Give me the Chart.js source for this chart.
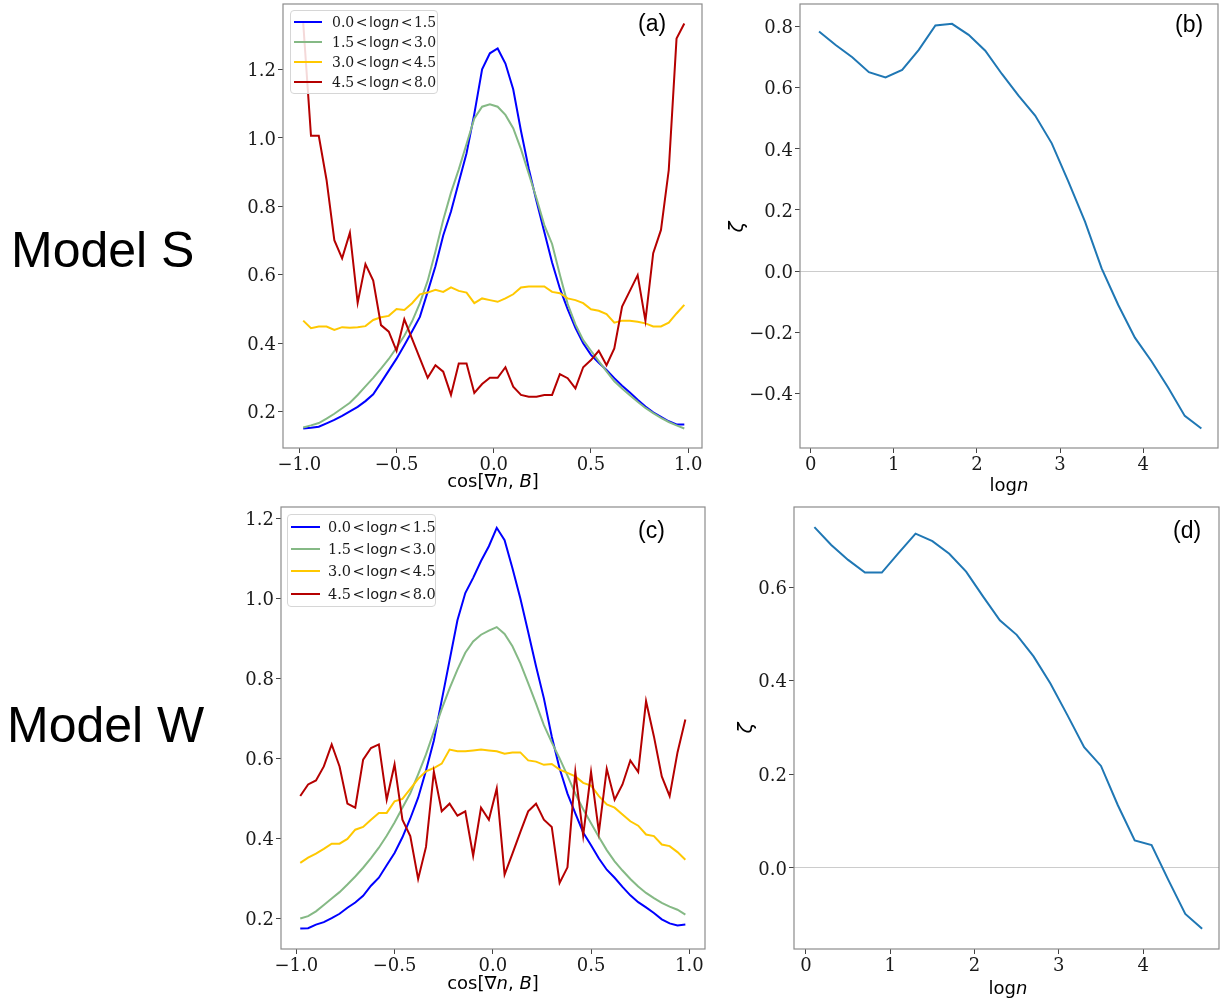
<!DOCTYPE html>
<html>
<head>
<meta charset="utf-8">
<script src="https://cdn.jsdelivr.net/npm/chart.js@4.4.1/dist/chart.umd.min.js"></script>
<style>
body { margin: 0; background: #fff; }
#page { position: relative; width: 1232px; height: 1002px; overflow: hidden; background: #fff; }
canvas { position: absolute; }
.txt { position: absolute; white-space: nowrap; color: #000; }
.model { font-family: 'Liberation Sans', Arial, sans-serif; font-size: 50px; line-height: 50px; }
.tag { font-family: 'Liberation Sans', Arial, sans-serif; font-size: 23px; line-height: 26px; }
.axt { font-family: 'DejaVu Sans', sans-serif; font-size: 18px; line-height: 22px; text-align: center; width: 200px; }
.zeta { font-family: 'DejaVu Sans', sans-serif; font-size: 20px; font-style: italic; width: 20px; height: 20px;
        line-height: 20px; text-align: center; transform: rotate(-90deg); }
.legend { position: absolute; border: 1px solid #d6d6d6; border-radius: 4px; background: rgba(255,255,255,0.85); box-sizing: border-box; }
.legend .swatch { position: absolute; height: 2px; }
.legend .lab { position: absolute; font-family: 'DejaVu Sans', sans-serif; white-space: nowrap; color: #1a1a1a; }
.legend .num { font-family: 'DejaVu Serif', serif; }
.legend .op { margin: 0 1.5px; }
</style>
</head>
<body>
<div id="page">
  <div class="txt model" style="left:11px; top:225px;">Model S</div>
  <div class="txt model" style="left:7px; top:700px;">Model W</div>

  <canvas id="chartA" width="500" height="500" style="left:220px; top:0px;"></canvas>
  <canvas id="chartB" width="512" height="500" style="left:720px; top:0px;"></canvas>
  <canvas id="chartC" width="500" height="502" style="left:220px; top:500px;"></canvas>
  <canvas id="chartD" width="512" height="502" style="left:720px; top:500px;"></canvas>

  <div class="txt tag" style="left:638px; top:10px;">(a)</div>
  <div class="txt tag" style="left:1175px; top:11px;">(b)</div>
  <div class="txt tag" style="left:638px; top:517px;">(c)</div>
  <div class="txt tag" style="left:1173px; top:517px;">(d)</div>

  <div class="txt axt" style="left:393px; top:470px;">cos[∇<i>n</i>, <i>B</i>]</div>
  <div class="txt axt" style="left:393px; top:972px;">cos[∇<i>n</i>, <i>B</i>]</div>
  <div class="txt axt" style="left:909px; top:474px;">log<i>n</i></div>
  <div class="txt axt" style="left:908px; top:977px;">log<i>n</i></div>
  <div class="txt zeta" style="left:726px; top:217px;">ζ</div>
  <div class="txt zeta" style="left:735px; top:718px;">ζ</div>

  <div id="legendA" class="legend" style="left:290px; top:10px; width:148px; height:84px;"></div>
  <div id="legendC" class="legend" style="left:287px; top:514px; width:149px; height:93px;"></div>
</div>

<script>
// bin centres of cos[grad n, B]
const cosBins = [-0.98, -0.94, -0.90, -0.86, -0.82, -0.78, -0.74, -0.70, -0.66, -0.62,
                 -0.58, -0.54, -0.50, -0.46, -0.42, -0.38, -0.34, -0.30, -0.26, -0.22,
                 -0.18, -0.14, -0.10, -0.06, -0.02, 0.02, 0.06, 0.10, 0.14, 0.18,
                 0.22, 0.26, 0.30, 0.34, 0.38, 0.42, 0.46, 0.50, 0.54, 0.58,
                 0.62, 0.66, 0.70, 0.74, 0.78, 0.82, 0.86, 0.90, 0.94, 0.98];

// density bins of log n
const logN = [0.1, 0.3, 0.5, 0.7, 0.9, 1.1, 1.3, 1.5, 1.7, 1.9, 2.1, 2.3,
              2.5, 2.7, 2.9, 3.1, 3.3, 3.5, 3.7, 3.9, 4.1, 4.3, 4.5, 4.7];

const binEdges = ['0.0', '1.5', '3.0', '4.5', '8.0'];
const binColors = ['#0000ff', '#85b985', '#ffc800', '#b50000'];

// Model S, panel (a)
const sBlue = [0.151, 0.153, 0.156, 0.166, 0.176, 0.188, 0.201, 0.214, 0.231, 0.251,
               0.285, 0.320, 0.355, 0.394, 0.435, 0.477, 0.550, 0.625, 0.715, 0.785,
               0.870, 0.955, 1.070, 1.200, 1.247, 1.261, 1.217, 1.142, 1.020, 0.910,
               0.815, 0.725, 0.636, 0.560, 0.500, 0.445, 0.400, 0.366, 0.343, 0.322,
               0.298, 0.276, 0.256, 0.235, 0.215, 0.198, 0.185, 0.172, 0.163, 0.163];
const sGreen = [0.154, 0.160, 0.167, 0.180, 0.194, 0.210, 0.226, 0.249, 0.274, 0.299,
                0.326, 0.354, 0.387, 0.422, 0.464, 0.517, 0.582, 0.668, 0.760, 0.840,
                0.908, 0.982, 1.057, 1.091, 1.098, 1.091, 1.067, 1.028, 0.967, 0.895,
                0.823, 0.745, 0.690, 0.600, 0.515, 0.455, 0.409, 0.378, 0.348, 0.318,
                0.289, 0.268, 0.248, 0.229, 0.211, 0.196, 0.182, 0.170, 0.160, 0.151];
const sYellow = [0.466, 0.444, 0.449, 0.449, 0.439, 0.447, 0.445, 0.447, 0.450, 0.468,
                 0.476, 0.480, 0.500, 0.497, 0.517, 0.543, 0.548, 0.556, 0.550, 0.563,
                 0.553, 0.548, 0.517, 0.531, 0.526, 0.521, 0.531, 0.543, 0.563, 0.566,
                 0.566, 0.566, 0.550, 0.546, 0.531, 0.526, 0.517, 0.499, 0.495, 0.485,
                 0.460, 0.466, 0.466, 0.463, 0.458, 0.449, 0.449, 0.460, 0.487, 0.512];
const sRed = [1.335, 1.006, 1.006, 0.877, 0.701, 0.648, 0.723, 0.518, 0.631, 0.583,
              0.453, 0.434, 0.378, 0.470, 0.413, 0.356, 0.299, 0.336, 0.317, 0.249,
              0.341, 0.341, 0.255, 0.281, 0.299, 0.299, 0.330, 0.273, 0.249, 0.244,
              0.244, 0.249, 0.249, 0.310, 0.298, 0.268, 0.330, 0.351, 0.378, 0.336,
              0.385, 0.507, 0.553, 0.599, 0.466, 0.663, 0.731, 0.906, 1.290, 1.334];

// Model W, panel (c)
const wBlue = [0.175, 0.176, 0.185, 0.191, 0.201, 0.212, 0.227, 0.240, 0.257, 0.282,
               0.302, 0.333, 0.364, 0.403, 0.450, 0.502, 0.570, 0.645, 0.745, 0.845,
               0.945, 1.013, 1.051, 1.093, 1.130, 1.176, 1.145, 1.075, 1.000, 0.916,
               0.830, 0.750, 0.655, 0.575, 0.512, 0.463, 0.415, 0.383, 0.350, 0.322,
               0.302, 0.279, 0.258, 0.241, 0.228, 0.214, 0.198, 0.188, 0.183, 0.185];
const wGreen = [0.200, 0.206, 0.218, 0.234, 0.250, 0.266, 0.285, 0.305, 0.327, 0.351,
                0.377, 0.407, 0.440, 0.477, 0.513, 0.560, 0.610, 0.667, 0.723, 0.775,
                0.822, 0.864, 0.892, 0.909, 0.919, 0.928, 0.911, 0.880, 0.838, 0.788,
                0.737, 0.683, 0.640, 0.600, 0.557, 0.512, 0.473, 0.438, 0.404, 0.371,
                0.343, 0.320, 0.299, 0.280, 0.264, 0.251, 0.239, 0.230, 0.222, 0.210];
const wYellow = [0.339, 0.352, 0.362, 0.374, 0.387, 0.387, 0.399, 0.422, 0.429, 0.447,
                 0.464, 0.464, 0.493, 0.499, 0.524, 0.549, 0.568, 0.576, 0.587, 0.622,
                 0.618, 0.618, 0.620, 0.622, 0.620, 0.618, 0.612, 0.615, 0.615, 0.595,
                 0.592, 0.584, 0.586, 0.572, 0.564, 0.555, 0.539, 0.532, 0.506, 0.485,
                 0.477, 0.460, 0.443, 0.432, 0.410, 0.406, 0.385, 0.381, 0.366, 0.347];
const wRed = [0.506, 0.535, 0.545, 0.580, 0.635, 0.580, 0.487, 0.477, 0.597, 0.626,
              0.635, 0.497, 0.585, 0.447, 0.406, 0.299, 0.379, 0.567, 0.468, 0.487,
              0.457, 0.468, 0.357, 0.477, 0.447, 0.525, 0.310, 0.362, 0.416, 0.468,
              0.487, 0.447, 0.429, 0.289, 0.328, 0.566, 0.407, 0.566, 0.416, 0.574,
              0.497, 0.535, 0.595, 0.566, 0.743, 0.655, 0.555, 0.506, 0.615, 0.697];

// zeta vs log n, panels (b) and (d)
const zetaS = [0.784, 0.740, 0.700, 0.651, 0.634, 0.658, 0.724, 0.804, 0.809, 0.773, 0.721, 0.645,
               0.574, 0.509, 0.418, 0.293, 0.162, 0.009, -0.111, -0.218, -0.295, -0.381, -0.474, -0.515];
const zetaW = [0.728, 0.690, 0.658, 0.631, 0.631, 0.673, 0.714, 0.698, 0.671, 0.633, 0.580, 0.529,
               0.498, 0.452, 0.394, 0.327, 0.258, 0.218, 0.134, 0.059, 0.049, -0.026, -0.098, -0.130];

// tick positions
const cosTicks = [-1.0, -0.5, 0.0, 0.5, 1.0];
const profTicks = [0.2, 0.4, 0.6, 0.8, 1.0, 1.2];
const logTicks = [0, 1, 2, 3, 4];
const zetaSTicks = [-0.4, -0.2, 0.0, 0.2, 0.4, 0.6, 0.8];
const zetaWTicks = [0.0, 0.2, 0.4, 0.6];

function fmt(v, dec) {
    return Number(v).toFixed(dec).replace('-', '\u2212');
}

// matplotlib-like box round the axes
const framePlugin = {
    id: 'frame',
    afterDraw(chart) {
        const { ctx, chartArea: a } = chart;
        ctx.save();
        ctx.strokeStyle = '#8c8c8c';
        ctx.lineWidth = 1.2;
        ctx.strokeRect(a.left, a.top, a.right - a.left, a.bottom - a.top);
        ctx.restore();
    }
};

function lineSet(xs, ys, color, label, order) {
    return {
        label: label,
        data: xs.map((x, i) => ({ x: x, y: ys[i] })),
        borderColor: color,
        backgroundColor: color,
        borderWidth: 2,
        pointRadius: 0,
        tension: 0,
        fill: false,
        order: order
    };
}

function axis(min, max, ticks, dec, size, fontSize, horizontal, zeroLine) {
    return {
        type: 'linear',
        position: horizontal ? 'bottom' : 'left',
        min: min,
        max: max,
        afterBuildTicks: s => { s.ticks = ticks.map(v => ({ value: v })); },
        afterFit: s => {
            // fixed axis size, no extra room for the end labels
            if (horizontal) { s.height = size; s.paddingLeft = 0; s.paddingRight = 0; }
            else { s.width = size; s.paddingTop = 0; s.paddingBottom = 0; }
        },
        grid: {
            color: c => (zeroLine && c.tick && c.tick.value === 0) ? '#cccccc' : 'rgba(0,0,0,0)',
            lineWidth: 1,
            drawTicks: true,
            tickLength: 5,
            tickColor: '#444',
            tickWidth: 1
        },
        border: { display: false },
        ticks: {
            font: { family: 'DejaVu Serif', size: fontSize },
            color: '#1a1a1a',
            padding: 2,
            labelOffset: horizontal ? 0 : 2,
            maxRotation: 0,
            autoSkip: false,
            callback: v => fmt(v, dec)
        }
    };
}

function makeChart(id, datasets, cfg) {
    return new Chart(document.getElementById(id), {
        type: 'line',
        data: { datasets: datasets },
        options: {
            responsive: false,
            animation: false,
            layout: { padding: { top: cfg.top, right: cfg.right, left: 0, bottom: 0 } },
            plugins: { legend: { display: false }, tooltip: { enabled: false } },
            scales: {
                x: axis(cfg.x[0], cfg.x[1], cfg.xTicks, cfg.xDec, cfg.xH, cfg.font, true, false),
                y: axis(cfg.y[0], cfg.y[1], cfg.yTicks, 1, cfg.yW, cfg.font, false, cfg.zero)
            }
        },
        plugins: [framePlugin]
    });
}

function profileSets(series) {
    // red drawn last, as in the original
    return series.map((ys, k) => lineSet(cosBins, ys, binColors[k],
        binEdges[k] + ' < logn < ' + binEdges[k + 1], series.length - 1 - k));
}

const chartA = makeChart('chartA', profileSets([sBlue, sGreen, sYellow, sRed]), {
    x: [-1.084, 1.071], y: [0.094, 1.391], xTicks: cosTicks, yTicks: profTicks, xDec: 1,
    xH: 52, yW: 63, top: 4, right: 18, font: 18, zero: false
});
const chartB = makeChart('chartB', [lineSet(logN, zetaS, '#1f77b4', 'zeta', 0)], {
    x: [-0.129, 4.9], y: [-0.579, 0.874], xTicks: logTicks, yTicks: zetaSTicks, xDec: 0,
    xH: 52, yW: 80, top: 4, right: 14, font: 18, zero: true
});
const chartC = makeChart('chartC', profileSets([wBlue, wGreen, wYellow, wRed]), {
    x: [-1.078, 1.08], y: [0.124, 1.228], xTicks: cosTicks, yTicks: profTicks, xDec: 1,
    xH: 53, yW: 61, top: 7, right: 15, font: 18, zero: false
});
const chartD = makeChart('chartD', [lineSet(logN, zetaW, '#1f77b4', 'zeta', 0)], {
    x: [-0.142, 4.9], y: [-0.173, 0.771], xTicks: logTicks, yTicks: zetaWTicks, xDec: 0,
    xH: 53, yW: 74, top: 7, right: 13, font: 18, zero: true
});

// legends built from the bin edges and colours
function buildLegend(id, rowGap, firstRow, swLeft, swWidth, textLeft, fontSize) {
    const box = document.getElementById(id);
    binEdges.slice(0, -1).forEach((lo, k) => {
        const cy = firstRow + k * rowGap;
        const sw = document.createElement('div');
        sw.className = 'swatch';
        sw.style.left = swLeft + 'px';
        sw.style.width = swWidth + 'px';
        sw.style.top = (cy - 1) + 'px';
        sw.style.background = binColors[k];
        box.appendChild(sw);
        const lab = document.createElement('div');
        lab.className = 'lab';
        lab.style.left = textLeft + 'px';
        lab.style.top = (cy - 9) + 'px';
        lab.style.fontSize = fontSize + 'px';
        lab.style.lineHeight = '18px';
        lab.innerHTML = '<span class="num">' + lo + '</span><span class="op">&lt;</span>log<i>n</i>' +
            '<span class="op">&lt;</span><span class="num">' + binEdges[k + 1] + '</span>';
        box.appendChild(lab);
    });
}
buildLegend('legendA', 20, 11, 3, 28, 41, 14);
buildLegend('legendC', 22.4, 11.5, 3, 29, 40, 14.5);
</script>
</body>
</html>
